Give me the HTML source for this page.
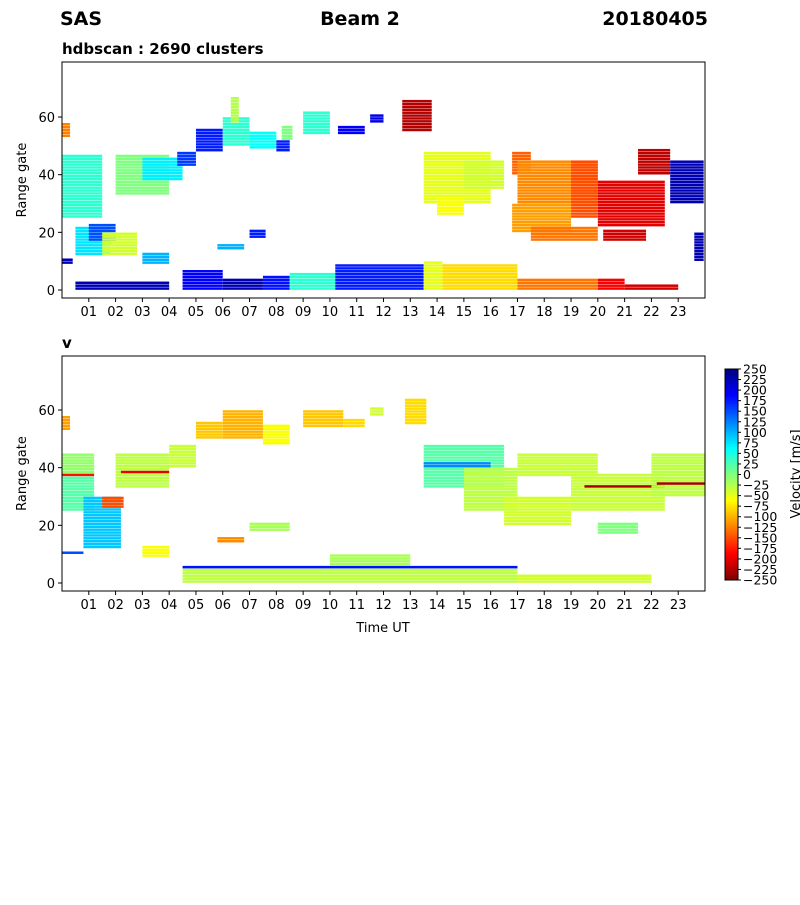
<!DOCTYPE html>
<html><head><meta charset="utf-8"><style>
body{margin:0;background:#fff}
svg text{font-family:"DejaVu Sans","Liberation Sans",sans-serif}
</style></head><body>
<svg id="fig" width="800" height="900" viewBox="0 0 800 900" xmlns="http://www.w3.org/2000/svg">
<rect width="800" height="900" fill="#fff"/>
<text x="60" y="25" font-size="19" font-weight="bold">SAS</text>
<text x="360" y="25" font-size="19" font-weight="bold" text-anchor="middle">Beam 2</text>
<text x="708" y="25" font-size="19" font-weight="bold" text-anchor="end">20180405</text>
<text x="62" y="54" font-size="15" font-weight="bold">hdbscan : 2690 clusters</text>
<text x="62" y="348" font-size="15" font-weight="bold">v</text>
<g id="top"></g>
<g id="bot"></g>
<g id="cbar"></g>
</svg>
<script>
// Hours on x, range gates on y
const hourTicks=["01","02","03","04","05","06","07","08","09","10","11","12","13","14","15","16","17","18","19","20","21","22","23"];
const gateTicks=[0,20,40,60];
// Top panel cluster blobs: [startHour, endHour, gateLow, gateHigh, clusterColor(0-1)]
const clusterBlobs=[
[0,0.3,53,58,0.75],[0,1.5,25,47,0.42],[0.5,1.8,12,22,0.35],[1,2,17,23,0.2],[1.5,2.8,12,20,0.58],
[2,4,33,47,0.5],[3,4.5,38,46,0.36],[4.3,5,43,48,0.18],[5,6,48,56,0.15],[6,7,50,60,0.42],[6.3,6.6,58,67,0.55],
[7,8,49,55,0.38],[8,8.5,48,52,0.15],[8.2,8.6,52,57,0.5],[9,10,54,62,0.42],[10.3,11.3,54,57,0.12],
[11.5,12,58,61,0.1],[12.7,13.8,55,66,0.95],[13.5,16,30,48,0.6],[15,16.5,35,45,0.58],[14,15,26,32,0.62],
[16.8,17.5,40,48,0.78],[17,20,30,45,0.74],[19,20,25,45,0.8],[16.8,19,20,30,0.72],[17.5,20,17,22,0.76],
[20,22.5,22,38,0.9],[20.2,21.8,17,21,0.92],[21.5,22.7,40,49,0.94],[22.7,23.95,30,45,0.05],
[0.5,4,0,3,0.05],[3,4,9,13,0.3],[4.5,6,0,7,0.12],[6,7.5,0,4,0.05],[7.5,8.5,0,5,0.14],[8.5,10.2,0,6,0.42],
[10.2,13.5,0,9,0.15],[13.5,14.2,0,10,0.6],[14.2,17,0,9,0.66],[17,20,0,4,0.76],[20,21,0,4,0.88],[21,23,0,2,0.92],
[23.6,23.95,10,20,0.05],[7,7.6,18,21,0.15],[5.8,6.8,14,16,0.3],[0,0.4,9,11,0.05]
];
// Bottom velocity blobs: [startHour, endHour, gateLow, gateHigh, velocity m/s]
const velBlobs=[
[0,0.3,53,58,-110],[0,1.2,38,45,-10],[0,1.2,25,37,20],[0,1.2,37,38,-180],[0.8,2.2,12,30,90],[1.5,2.3,26,30,-150],
[2,4,33,45,-30],[2.2,4,38,39,-200],[4,5,40,48,-35],[3,4,9,13,-60],[5,6,50,56,-90],[6,7.5,50,60,-100],
[7.5,8.5,48,55,-60],[9,10.5,54,60,-90],[10.5,11.3,54,57,-80],[11.5,12,58,61,-40],[12.8,13.6,55,64,-80],
[4.5,17,0,6,-30],[4.5,17,5,6,180],[10,13,6,10,-20],[13.5,16.5,33,48,20],[13.5,16,40,42,120],
[15,17,25,40,-30],[16.5,19,20,30,-40],[17,20,37,45,-35],[19,22.5,25,38,-35],[19.5,22.5,33,34,-230],
[20,21.5,17,21,0],[22,24,30,45,-30],[22.2,24,34,35,-230],[5.8,6.8,14,16,-120],[0,0.8,10,11,150],
[7,8.5,18,21,-20],[17,22,0,3,-40]
];
const cbTicks=[250,225,200,175,150,125,100,75,50,25,0,-25,-50,-75,-100,-125,-150,-175,-200,-225,-250];

const NS="http://www.w3.org/2000/svg";
function mk(tag,attrs,parent){const e=document.createElementNS(NS,tag);for(const k in attrs)e.setAttribute(k,attrs[k]);parent.appendChild(e);return e;}
function clamp(v){return Math.max(0,Math.min(1,v));}
function jet(t){const r=clamp(1.5-Math.abs(4*t-3)),g=clamp(1.5-Math.abs(4*t-2)),b=clamp(1.5-Math.abs(4*t-1));return `rgb(${Math.round(r*255)},${Math.round(g*255)},${Math.round(b*255)})`;}
const X0=62,X1=705;
function xs(h){return X0+(X1-X0)*h/24;}
function makeY(zeroY){return g=>zeroY-g*2.883;}

function panel(group,top,bottom,zeroY,blobs,colorFn,xlabel){
  const ys=makeY(zeroY);
  blobs.forEach(b=>{
    for(let g=b[2];g<b[3];g++){
      const r=mk('rect',{x:xs(b[0]),y:ys(g+1)+0.2,width:xs(b[1])-xs(b[0]),height:2.5,fill:colorFn(b[4])},group);
      
      
    }
  });
  const f=mk('rect',{x:X0,y:top,width:X1-X0,height:bottom-top,fill:'none',stroke:'#000','stroke-width':1},group);
  
  hourTicks.forEach((t,i)=>{const x=xs(i+1);
    mk('line',{x1:x,x2:x,y1:bottom,y2:bottom+4,stroke:'#000'},group);
    const tx=mk('text',{x:x,y:bottom+18,'font-size':13,'text-anchor':'middle'},group);tx.textContent=t;
    });
  gateTicks.forEach(g=>{const y=ys(g);
    mk('line',{x1:X0-4,x2:X0,y1:y,y2:y,stroke:'#000'},group);
    const tx=mk('text',{x:X0-7,y:y+5,'font-size':13,'text-anchor':'end'},group);tx.textContent=g;
    });
  const yl=mk('text',{x:26,y:(top+bottom)/2,'font-size':13,'text-anchor':'middle',transform:`rotate(-90 26 ${(top+bottom)/2})`},group);
  yl.textContent='Range gate';
  if(xlabel){const xl=mk('text',{x:383,y:bottom+41,'font-size':13,'text-anchor':'middle'},group);xl.textContent=xlabel;
    }
}
const vt=v=>jet((250-v)/500);
panel(document.getElementById('top'),62,298,290,clusterBlobs,c=>jet(c),null);
panel(document.getElementById('bot'),356,591,583,velBlobs,vt,'Time UT');

// colorbar
const cb=document.getElementById('cbar');const cT=369,cB=580,cX=725,cW=13;
for(let i=0;i<100;i++){const v=250-500*(i+0.5)/100;
  mk('rect',{x:cX,y:cT+(cB-cT)*i/100,width:cW,height:(cB-cT)/100+0.5,fill:vt(v)},cb);}
mk('rect',{x:cX,y:cT,width:cW,height:cB-cT,fill:'none',stroke:'#000'},cb);
cbTicks.forEach(v=>{const y=cT+(250-v)/500*(cB-cT);
  mk('line',{x1:cX+cW,x2:cX+cW+3,y1:y,y2:y,stroke:'#000'},cb);
  const tx=mk('text',{x:cX+cW+5,y:y+4.5,'font-size':12.5},cb);tx.textContent=v<0?'\u2212'+(-v):String(v);
  });
const cl=mk('text',{x:800,y:474,'font-size':13,'text-anchor':'middle',transform:'rotate(-90 800 474)'},cb);
cl.textContent='Velocity [m/s]';
</script>
</body></html>
